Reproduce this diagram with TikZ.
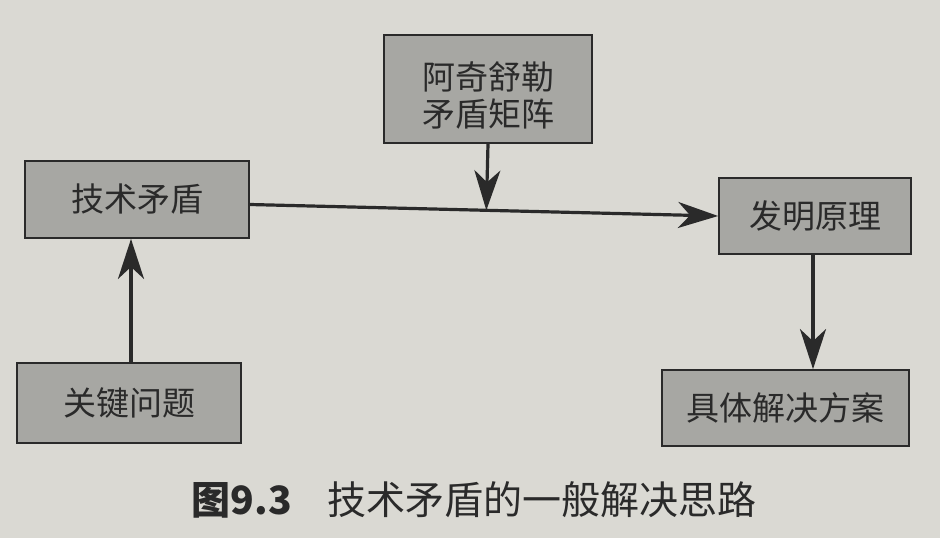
\documentclass[tikz,border=0pt]{standalone}
\usepackage{fontspec}
\setmainfont{Noto Sans CJK SC}
\usetikzlibrary{arrows.meta,calc}
\definecolor{pagebg}{HTML}{DAD9D3}
\definecolor{boxfill}{HTML}{A7A7A3}
\definecolor{ink}{HTML}{2A2A2A}
\tikzset{
  blk/.style={draw=ink, line width=1.8pt, fill=boxfill, text=ink, inner sep=0pt,
    font=\fontsize{33}{37}\selectfont, align=center},
  conn/.style={draw=ink, line width=3.2pt,
    -{Stealth[length=40pt,width=26pt,inset=12pt]}},
}
\begin{document}
\begin{tikzpicture}[x=1pt,y=-1pt]
\fill[pagebg] (0,0) rectangle (940,538);
\useasboundingbox (0,0) rectangle (940,538);

\node[blk, minimum width=224pt, minimum height=77pt] (jsmd) at (137,199.5) {技术矛盾};
\node[blk, minimum width=208pt, minimum height=108pt] (jz) at (488,89) {\rule{0pt}{40pt}阿奇舒勒\\矛盾矩阵};
\node[blk, minimum width=192pt, minimum height=76pt] (fmyl) at (815,216) {发明原理};
\node[blk, minimum width=224pt, minimum height=80pt] (gjwt) at (129,403) {关键问题};
\node[blk, minimum width=247pt, minimum height=76pt] (jtfa) at (785.5,408) {具体解决方案};

\node[text=ink, font=\fontsize{39}{42}\selectfont, inner sep=0pt] (cap) at (474,500)
  {{\bfseries 图9.3}\hspace{0.9em}技术矛盾的一般解决思路};

\coordinate (hs) at ($(jsmd.east)+(0,5)$);
\draw[conn] (hs) -- (fmyl.west);
\coordinate (mj) at ($(hs)!(jz.south)!(fmyl.west)$);
\draw[conn] (jz.south) -- (mj);
\draw[conn] (gjwt.north -| 131,0) -- (jsmd.south -| 131,0);
\draw[conn] (fmyl.south -| 813,0) -- (jtfa.north -| 813,0);
\end{tikzpicture}
\end{document}
